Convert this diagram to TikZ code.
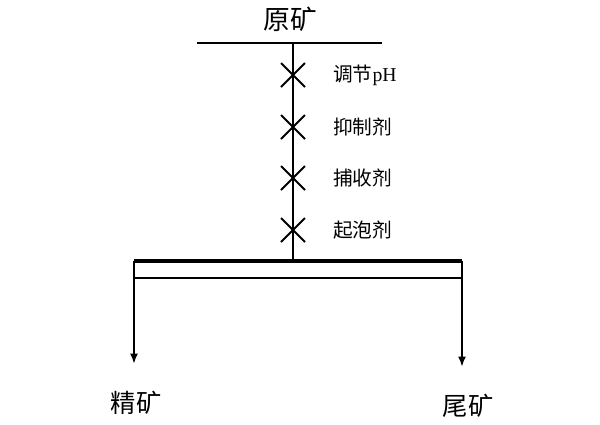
\documentclass[tikz,border=0pt]{standalone}
\usepackage{fontspec}
\setmainfont{Liberation Serif}
\newfontfamily\cjk{Noto Sans CJK SC}
\usetikzlibrary{arrows.meta,positioning}

\begin{document}
\begin{tikzpicture}[
  x=0.025cm,y=-0.025cm,
  title/.style={font=\cjk\fontsize{19}{22}\selectfont,inner sep=0pt},
  reagent/.style={font=\cjk\fontsize{14}{16}\selectfont,anchor=west,inner sep=0pt},
  product/.style={font=\cjk\fontsize{18}{20}\selectfont,inner sep=0pt},
  feedline/.style={line width=1.6pt},
  cross/.style={line width=1.3pt},
  arrow/.style={-{Latex[length=2.6mm,width=2mm]},line width=1.5pt}
]
\useasboundingbox (0,0) rectangle (600,424);
% feed
\node[title] (feed) at (290,19) {原矿};
\coordinate (feedL) at (197,43);
\coordinate (feedR) at (382,43);
\coordinate (feedC) at (293,43);
\draw[feedline] (feedL) -- (feedR);
% flotation cell
\coordinate (cellTL) at (134,261);
\coordinate (cellTR) at (462,261);
\coordinate (cellTC) at (293,261);
\coordinate (cellBL) at (134,278);
\coordinate (cellBR) at (462,278);
\draw[line width=2.2pt] (cellTL) -- (cellTR);
\draw[line width=1.3pt] (cellBL) -- (cellBR);
\draw[feedline] (feedC) -- (cellTC);
% reagents
\foreach \y/\t [count=\i] in {75/调节{\rmfamily pH},127/抑制剂,178/捕收剂,230/起泡剂}{
  \draw[cross] (281,\y-12) -- (305,\y+12) (281,\y+12) -- (305,\y-12);
  \node[reagent] (reag\i) at (333,\y) {\t};
}
% products
\node[product] (conc) at (136,403) {精矿};
\node[product] (tail) at (468,406) {尾矿};
\coordinate (concIn) at (134,364);
\coordinate (tailIn) at (462,367);
\draw[arrow] (cellTL) -- (concIn);
\draw[arrow] (cellTR) -- (tailIn);
\end{tikzpicture}
\end{document}
